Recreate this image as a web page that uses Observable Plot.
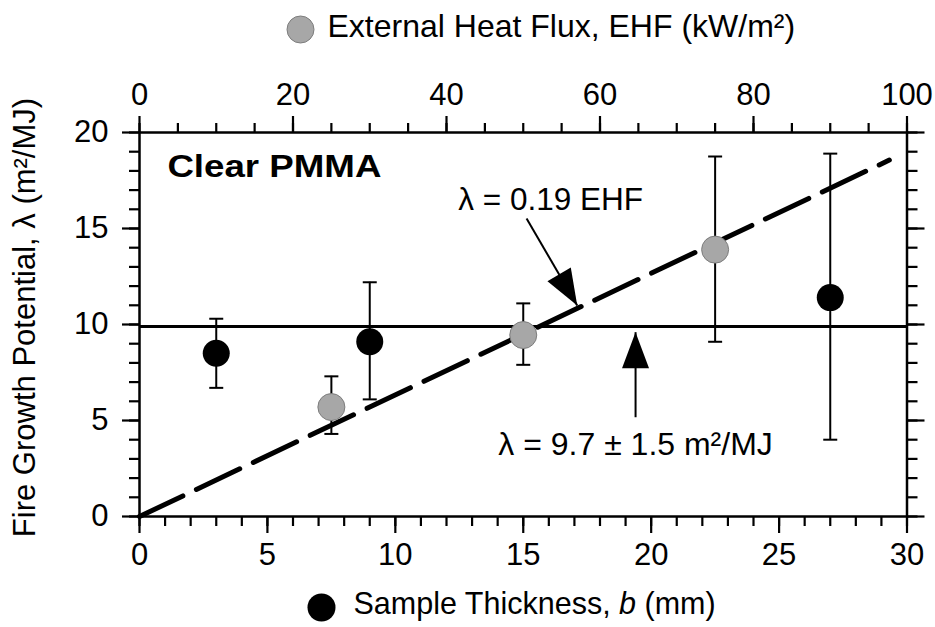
<!DOCTYPE html>
<html><head><meta charset="utf-8">
<script src="https://cdn.jsdelivr.net/npm/d3@7"></script>
<script src="https://cdn.jsdelivr.net/npm/@observablehq/plot@0.6"></script>
<style>body{margin:0;background:#fff;} #chart svg{display:block}</style>
</head><body><div id="chart"></div>
<script>
// ---- data ----
const thicknessMm = [3, 9, 27];
const thicknessLambda = [8.5, 9.1, 11.4];
const thicknessLow = [6.7, 6.1, 4.0];
const thicknessHigh = [10.3, 12.2, 18.9];

const ehfValues = [25, 50, 75];
const ehfLambda = [5.7, 9.45, 13.9];
const ehfLow = [4.3, 7.9, 9.1];
const ehfHigh = [7.3, 11.1, 18.75];

const meanLambda = 9.9;          // horizontal line
const fitSlope = 0.19;           // λ = 0.19 EHF
const fitEhfRange = [0, 97.7];

const xTicks = [0, 5, 10, 15, 20, 25, 30];
const xMinor = d3.range(0, 31, 1);
const ehfTicks = [0, 20, 40, 60, 80, 100];
const ehfMinor = d3.range(0, 101, 5);
const yTicks = [0, 5, 10, 15, 20];
const yMinor = d3.range(0, 21, 1);

const labels = {
  top: "External Heat Flux, EHF (kW/m²)",
  bottom: "Sample Thickness, b (mm)",
  y: "Fire Growth Potential, λ (m²/MJ)",
  panel: "Clear PMMA",
  fit: "λ = 0.19 EHF",
  mean: "λ = 9.7 ± 1.5 m²/MJ"
};
const annFit = {x1: 15.13, y1: 15.52, x2: 17.11, y2: 10.99, tx: 16.07, ty: 16.5};
const annMean = {x1: 19.39, y1: 5.17, x2: 19.39, y2: 9.6, tx: 19.39, ty: 3.75};

// EHF axis 0–100 aligns with thickness axis 0–30
const MM_PER_EHF = 30 / 100;

const thick = thicknessMm.map((x, i) => ({x, y: thicknessLambda[i], lo: thicknessLow[i], hi: thicknessHigh[i]}));
const ehf = ehfValues.map((e, i) => ({x: e * MM_PER_EHF, y: ehfLambda[i], lo: ehfLow[i], hi: ehfHigh[i]}));
const fit = fitEhfRange.map(e => ({x: e * MM_PER_EHF, y: fitSlope * e}));

const cap = {draw(ctx) { ctx.moveTo(-7, 0); ctx.lineTo(7, 0); }};
const head = {draw(ctx) { ctx.moveTo(0, 0); ctx.lineTo(-13.5, 36); ctx.lineTo(13.5, 36); ctx.closePath(); }};

const FONT = "'Liberation Sans', Arial, Helvetica, sans-serif";
const grey = "#a7a7a7";
const TICK_FS = 31;

const chart = Plot.plot({
  width: 935, height: 627,
  marginLeft: 139, marginRight: 28.5, marginTop: 132, marginBottom: 111,
  x: {domain: [0, 30]},
  y: {domain: [0, 20]},
  style: {fontFamily: FONT, fontSize: "30px", color: "black", background: "white"},
  marks: [
    // axes
    Plot.axisX({anchor: "bottom", ticks: xTicks, tickSize: 17, tickPadding: 9, strokeWidth: 2.2, fontSize: TICK_FS, label: null}),
    Plot.axisX({anchor: "bottom", ticks: xMinor, tickSize: 10, strokeWidth: 2.2, tickFormat: () => "", label: null}),
    Plot.axisX({anchor: "top", ticks: ehfTicks.map(e => e * MM_PER_EHF), tickFormat: d => String(Math.round(d / MM_PER_EHF)), tickSize: 17, tickPadding: 11, strokeWidth: 2.2, fontSize: TICK_FS, label: null}),
    Plot.axisX({anchor: "top", ticks: ehfMinor.map(e => e * MM_PER_EHF), tickSize: 10, strokeWidth: 2.2, tickFormat: () => "", label: null}),
    Plot.axisY({anchor: "left", ticks: yTicks, tickSize: 17, tickPadding: 14, strokeWidth: 2.2, fontSize: TICK_FS, label: null}),
    Plot.axisY({anchor: "left", ticks: yMinor, tickSize: 10, strokeWidth: 2.2, tickFormat: () => "", label: null}),
    Plot.axisY({anchor: "right", ticks: yTicks, tickSize: 17, strokeWidth: 2.2, tickFormat: () => "", label: null}),
    Plot.axisY({anchor: "right", ticks: yMinor, tickSize: 10, strokeWidth: 2.2, tickFormat: () => "", label: null}),
    Plot.frame({stroke: "black", strokeWidth: 2.5}),

    // reference lines
    Plot.ruleY([meanLambda], {stroke: "black", strokeWidth: 3}),
    Plot.line(fit, {x: "x", y: "y", stroke: "black", strokeWidth: 5, strokeDasharray: "48,15"}),

    // error bars
    Plot.ruleX(thick, {x: "x", y1: "lo", y2: "hi", stroke: "black", strokeWidth: 2}),
    Plot.ruleX(ehf, {x: "x", y1: "lo", y2: "hi", stroke: "black", strokeWidth: 2}),
    Plot.dot(thick, {x: "x", y: "lo", symbol: cap, r: 7, fill: "none", stroke: "black", strokeWidth: 2}),
    Plot.dot(thick, {x: "x", y: "hi", symbol: cap, r: 7, fill: "none", stroke: "black", strokeWidth: 2}),
    Plot.dot(ehf, {x: "x", y: "lo", symbol: cap, r: 7, fill: "none", stroke: "black", strokeWidth: 2}),
    Plot.dot(ehf, {x: "x", y: "hi", symbol: cap, r: 7, fill: "none", stroke: "black", strokeWidth: 2}),

    // points
    Plot.dot(thick, {x: "x", y: "y", r: 13.5, fill: "black"}),
    Plot.dot(ehf, {x: "x", y: "y", r: 13.5, fill: grey, stroke: "#7d7d7d", strokeWidth: 1}),

    // annotations
    Plot.link([annFit, annMean], {x1: "x1", y1: "y1", x2: "x2", y2: "y2", stroke: "black", strokeWidth: 2}),
    Plot.dot([annFit], {x: "x2", y: "y2", symbol: head, r: 10, fill: "black", stroke: "none", rotate: 149.8}),
    Plot.dot([annMean], {x: "x2", y: "y2", symbol: head, r: 10, fill: "black", stroke: "none", rotate: 0}),
    Plot.text([labels.fit], {x: annFit.tx, y: annFit.ty, text: d => d, fontSize: 31.5, textAnchor: "middle", lineAnchor: "middle"}),
    Plot.text([labels.mean], {x: annMean.tx, y: annMean.ty, text: d => d, fontSize: 32, textAnchor: "middle", lineAnchor: "middle"}),
    Plot.text([labels.panel], {x: 1.09, y: 18.18, text: d => d, fontSize: 31, fontWeight: "bold", textAnchor: "start", lineAnchor: "middle"}),

    // axis titles / legends
    Plot.text([labels.y], {frameAnchor: "left", text: d => d, rotate: -90, dx: -114, dy: -7, fontSize: 31, textAnchor: "middle", lineAnchor: "middle"}),
    Plot.dot([0], {frameAnchor: "top-left", dx: 161, dy: -103, r: 13.5, fill: grey, stroke: "#7d7d7d", strokeWidth: 1}),
    Plot.text([labels.top], {frameAnchor: "top-left", dx: 188, dy: -106, text: d => d, fontSize: 32, textAnchor: "start", lineAnchor: "middle"}),
    Plot.dot([0], {frameAnchor: "bottom-left", dx: 182, dy: 91, r: 14, fill: "black"}),
    Plot.text([labels.bottom], {frameAnchor: "bottom-left", dx: 214, dy: 88, text: d => d, fontSize: 30.5, textAnchor: "start", lineAnchor: "middle"})
  ]
});

// styling tweaks: italic "b", wide bold panel label
d3.select(chart).selectAll("text").each(function() {
  const t = this.textContent;
  if (t === labels.bottom) {
    const s = d3.select(this);
    s.text(null);
    s.append("tspan").text("Sample Thickness, ");
    s.append("tspan").attr("font-style", "italic").text("b");
    s.append("tspan").text(" (mm)");
  } else if (t === labels.panel) {
    d3.select(this).attr("textLength", 214).attr("lengthAdjust", "spacingAndGlyphs");
  }
});

document.getElementById("chart").append(chart);
</script>
</body></html>
